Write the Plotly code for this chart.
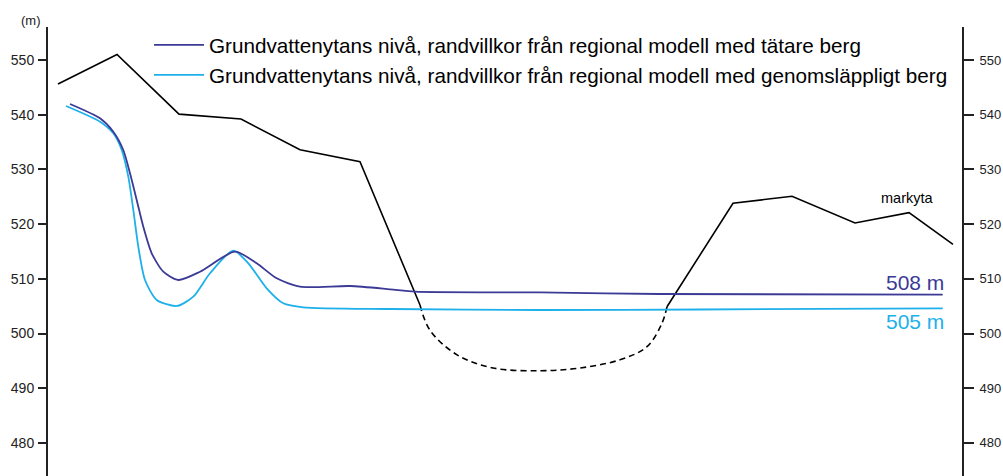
import plotly.graph_objects as go

# distance along profile (arbitrary units), elevation (m)
ground_x1 = [10, 69, 131, 193, 252, 312, 372]
ground_y1 = [545.6, 551.0, 540.1, 539.2, 533.6, 531.4, 505.2]
ground_dash_x = [372, 382, 409, 445, 492, 532, 572, 599, 614, 619]
ground_dash_y = [505.2, 500.6, 496.1, 493.7, 493.2, 493.7, 495.2, 497.6, 501.9, 504.9]
ground_x2 = [619, 685, 744, 807, 861, 905]
ground_y2 = [504.9, 523.8, 525.1, 520.2, 522.1, 516.3]

dark_x = [22, 52, 65.3, 75.3, 82, 88.7, 95.3, 103.7, 115.3, 130.3, 152, 187, 208.7,
          228.7, 252, 302, 342, 367, 492, 612, 894.7]
dark_y = [541.96, 539.34, 536.89, 533.55, 529.29, 524.41, 519.52, 514.66, 511.30, 509.78,
          511.30, 514.95, 512.83, 510.09, 508.56, 508.68, 508.08, 507.64, 507.5, 507.22, 507.09]

light_x = [18, 52, 65.3, 73.7, 80.3, 85.3, 90.3, 97, 108.7, 128.7, 145.3, 162, 185.3,
           200.3, 218.7, 235.3, 255.3, 342, 492, 652, 894.7]
light_y = [541.59, 538.72, 536.60, 533.55, 528.67, 522.58, 515.87, 509.78, 506.13, 505.03,
           506.73, 511.01, 515.14, 512.83, 508.26, 505.52, 504.79, 504.48, 504.30, 504.39, 504.61]

yticks = [480, 490, 500, 510, 520, 530, 540, 550]
legend_names = [
    "Grundvattenytans nivå, randvillkor från regional modell med tätare berg",
    "Grundvattenytans nivå, randvillkor från regional modell med genomsläppligt berg",
]
label_texts = ["markyta", "508 m", "505 m"]
dark_color = "#3b3a96"
light_color = "#1eb0ea"

fig = go.Figure()
fig.add_trace(go.Scatter(x=ground_x1, y=ground_y1, mode="lines",
                         line=dict(color="black", width=1.6), showlegend=False))
fig.add_trace(go.Scatter(x=ground_dash_x, y=ground_dash_y, mode="lines",
                         line=dict(color="black", width=1.6, dash="6px,4px", shape="spline"),
                         showlegend=False))
fig.add_trace(go.Scatter(x=ground_x2, y=ground_y2, mode="lines",
                         line=dict(color="black", width=1.6), showlegend=False))
fig.add_trace(go.Scatter(x=light_x, y=light_y, mode="lines", name=legend_names[1],
                         line=dict(color=light_color, width=1.8, shape="spline", smoothing=0.7)))
fig.add_trace(go.Scatter(x=dark_x, y=dark_y, mode="lines", name=legend_names[0],
                         line=dict(color=dark_color, width=1.8, shape="spline", smoothing=0.7)))
# dummy trace on right axis
fig.add_trace(go.Scatter(x=[None], y=[None], yaxis="y2", showlegend=False))

yr = [473.95, 556.03]
fig.update_layout(
    width=1003, height=476,
    margin=dict(l=48, r=41, t=27, b=0),
    plot_bgcolor="white", paper_bgcolor="white",
    font=dict(family="Arial, Liberation Sans, sans-serif", color="black"),
    xaxis=dict(range=[0, 914], visible=False, showgrid=False),
    yaxis=dict(range=yr, tickvals=yticks, showgrid=False, zeroline=False,
               showline=True, linecolor="#222", linewidth=2,
               ticks="outside", ticklen=8, tickwidth=1.5, tickcolor="#222",
               tickfont=dict(size=14, color="#222"), ticklabelstandoff=1),
    yaxis2=dict(range=yr, tickvals=yticks, overlaying="y", side="right",
                showgrid=False, zeroline=False,
                showline=True, linecolor="#222", linewidth=2,
                ticks="outside", ticklen=10, tickwidth=1.5, tickcolor="#222",
                tickfont=dict(size=13, color="#222"), ticklabelstandoff=3),
    legend=dict(x=(149 - 48) / 914, y=(476 - 25) / 449, xanchor="left", yanchor="top",
                traceorder="reversed",
                font=dict(size=20.7, color="black"), bgcolor="rgba(0,0,0,0)",
                itemwidth=50, tracegroupgap=0),
    showlegend=True,
)


def pix_to_val(p):
    return 550 - (p - 60) / 5.47


fig.add_annotation(x=0, y=1, xref="paper", yref="paper", text="(m)",
                   xanchor="center", yanchor="middle", xshift=-17, yshift=(27 - 20.5),
                   showarrow=False, font=dict(size=13, color="#222"))
fig.add_annotation(x=(936 - 48) / 914, y=pix_to_val(198), xref="paper", yref="y",
                   text=label_texts[0], xanchor="right", yanchor="middle", showarrow=False,
                   font=dict(size=14.5, color="black"))
fig.add_annotation(x=(946 - 48) / 914, y=pix_to_val(282), xref="paper", yref="y",
                   text=label_texts[1], xanchor="right", yanchor="middle", showarrow=False,
                   font=dict(size=21, color=dark_color))
fig.add_annotation(x=(946 - 48) / 914, y=pix_to_val(321.5), xref="paper", yref="y",
                   text=label_texts[2], xanchor="right", yanchor="middle", showarrow=False,
                   font=dict(size=21, color=light_color))

fig.write_html("out.html", config={"displayModeBar": False},
               post_script="document.body.style.margin='0px';")
